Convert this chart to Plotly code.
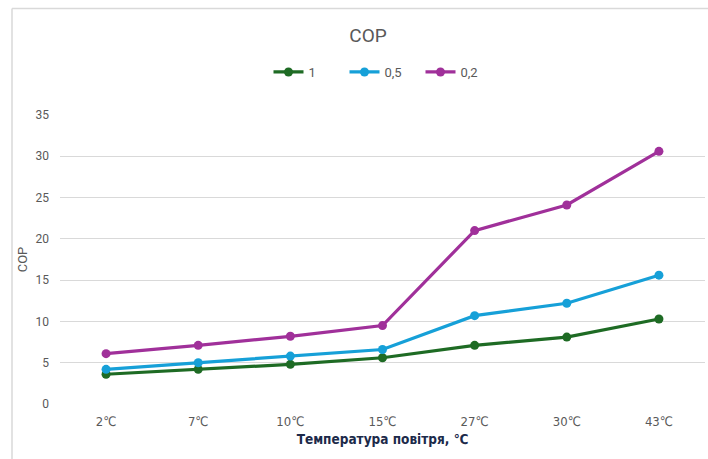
import plotly.graph_objects as go

categories = ["2℃", "7℃", "10℃", "15℃", "27℃", "30℃", "43℃"]
series_names = ["1", "0,5", "0,2"]
values_1 = [3.6, 4.2, 4.8, 5.6, 7.1, 8.1, 10.3]
values_05 = [4.2, 5.0, 5.8, 6.6, 10.7, 12.2, 15.6]
values_02 = [6.1, 7.1, 8.2, 9.5, 21.0, 24.1, 30.6]
y_ticks = [0, 5, 10, 15, 20, 25, 30, 35]

colors = ["#1e6b24", "#16a0d8", "#a0309a"]
series = [values_1, values_05, values_02]

fig = go.Figure()
for name, vals, c in zip(series_names, series, colors):
    fig.add_trace(go.Scatter(
        x=categories, y=vals, name=name, mode="lines+markers",
        line=dict(color=c, width=3.2),
        marker=dict(color=c, size=9),
    ))

W, H = 708, 459
L, R, T, B = 60, 705, 115, 404
pw, ph = R - L, B - T

def px_x(p):
    return (p - L) / pw

def px_y(p):
    return (B - p) / ph

border = dict(color="#d9d9d9", width=1.5)

fig.update_layout(
    width=W, height=H,
    margin=dict(l=L, r=W - R, t=T, b=H - B),
    paper_bgcolor="white", plot_bgcolor="white",
    font=dict(family="Roboto, Liberation Sans, sans-serif", color="#595959", size=12),
    title=dict(text="COP", x=368 / W, xref="container", xanchor="center",
               y=1 - 35 / H, yref="container", yanchor="middle",
               font=dict(size=19, color="#595959")),
    showlegend=True,
    legend=dict(orientation="h", x=0.5, xanchor="center",
                y=px_y(72), yanchor="middle",
                font=dict(size=13, color="#595959"),
                itemwidth=30, entrywidth=31, tracegroupgap=0),
    xaxis=dict(range=[-0.5, len(categories) - 0.5],
               showgrid=False, showline=False, zeroline=False, ticks="",
               tickfont=dict(family="Liberation Sans Narrow, DejaVu Sans Condensed, Roboto, sans-serif",
                             size=13, color="#595959"),
               title=dict(text="Температура повітря, ℃",
                          font=dict(family="Liberation Sans Narrow, DejaVu Sans Condensed, Roboto, sans-serif",
                                    size=13.5, color="#1c2a4a", weight="bold"),
                          standoff=6),
               ticklabelstandoff=8),
    yaxis=dict(range=[0, 35], tickvals=y_ticks, showgrid=True, gridcolor="#d9d9d9",
               gridwidth=1.3, zeroline=False, showline=False, ticks="",
               tickfont=dict(size=12, color="#595959"),
               ticklabelstandoff=10,
               title=dict(text="COP", font=dict(size=13, color="#595959"), standoff=4)),
    shapes=[
        dict(type="line", xref="paper", yref="paper",
             x0=px_x(12), x1=px_x(12), y0=px_y(470), y1=px_y(8.5),
             line=border, layer="below"),
        dict(type="line", xref="paper", yref="paper",
             x0=px_x(12), x1=px_x(720), y0=px_y(8.5), y1=px_y(8.5),
             line=border, layer="below"),
    ],
)

fig.write_html(
    "out.html",
    config={"displayModeBar": False},
    post_script="document.body.style.margin='0';document.body.style.overflow='hidden';",
)
